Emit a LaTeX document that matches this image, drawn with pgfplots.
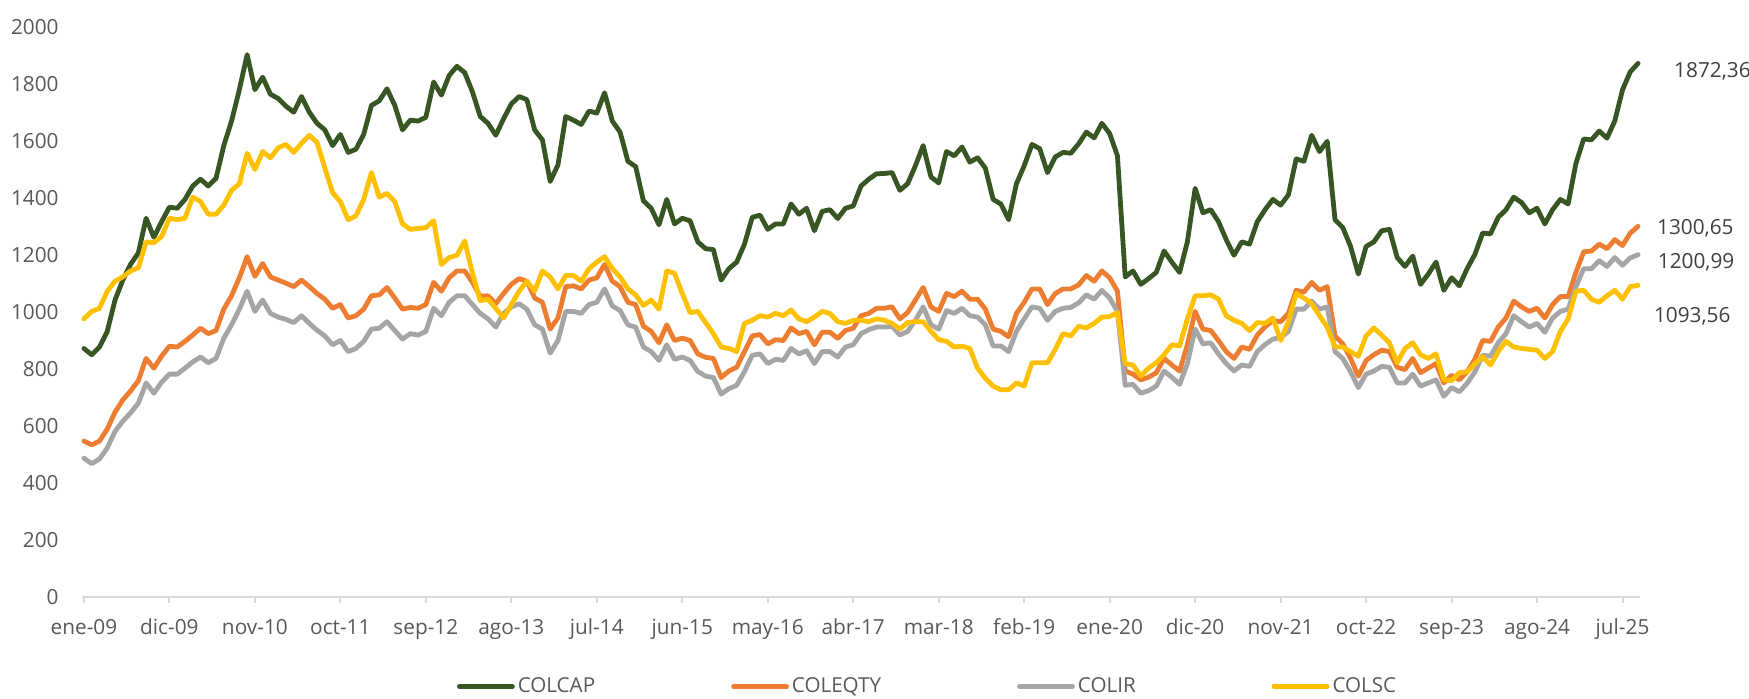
\documentclass[border=0pt]{standalone}
\usepackage{fontspec}
\setmainfont{Open Sans}
\usepackage{pgfplots}
\pgfplotsset{compat=1.18}
\usepackage{pgfplotstable}
\definecolor{cCAP}{HTML}{375623}
\definecolor{cEQ}{HTML}{ED7D31}
\definecolor{cIR}{HTML}{A5A5A5}
\definecolor{cSC}{HTML}{FFC000}
\definecolor{cAx}{HTML}{D9D9D9}
\definecolor{cTx}{HTML}{595959}
\definecolor{cLbl}{HTML}{404040}

% month index (0 = ene-09), COLCAP, COLEQTY, COLIR, COLSC
\pgfplotstableread{
m colcap coleqty colir colsc
0 872 547 487 976
1 850 534 468 1002
2 877 547 484 1013
3 932 589 523 1073
4 1042 649 581 1108
5 1112 691 617 1123
6 1167 723 646 1144
7 1207 759 680 1155
8 1329 837 751 1246
9 1262 803 715 1243
10 1317 845 754 1265
11 1368 880 782 1329
12 1364 877 782 1324
13 1395 897 803 1329
14 1442 919 825 1403
15 1466 943 842 1387
16 1442 924 822 1343
17 1469 935 837 1343
18 1584 1010 908 1375
19 1670 1057 955 1427
20 1780 1120 1010 1450
21 1903 1194 1073 1557
22 1780 1125 1002 1500
23 1824 1170 1042 1563
24 1764 1123 995 1541
25 1749 1112 982 1576
26 1722 1101 974 1588
27 1701 1089 963 1560
28 1756 1112 987 1592
29 1701 1089 960 1620
30 1662 1065 936 1595
31 1639 1045 916 1505
32 1584 1013 885 1419
33 1623 1026 900 1387
34 1560 979 861 1324
35 1571 987 872 1337
36 1623 1010 897 1395
37 1725 1057 940 1489
38 1741 1060 943 1403
39 1783 1086 966 1416
40 1725 1049 935 1387
41 1639 1010 905 1309
42 1673 1016 924 1290
43 1670 1013 919 1293
44 1683 1026 932 1296
45 1807 1104 1013 1320
46 1761 1073 987 1167
47 1830 1120 1034 1191
48 1862 1144 1057 1199
49 1840 1144 1057 1249
50 1772 1104 1026 1136
51 1686 1055 995 1040
52 1662 1057 976 1045
53 1620 1029 947 1013
54 1678 1065 995 979
55 1730 1097 1018 1026
56 1756 1117 1029 1073
57 1745 1108 1010 1108
58 1639 1049 955 1073
59 1604 1034 940 1144
60 1458 940 856 1123
61 1516 979 900 1081
62 1686 1089 1002 1128
63 1673 1092 1002 1128
64 1658 1081 995 1108
65 1705 1112 1026 1152
66 1698 1120 1034 1175
67 1769 1167 1081 1194
68 1670 1108 1021 1152
69 1631 1089 1005 1123
70 1529 1034 955 1081
71 1510 1026 947 1060
72 1390 950 877 1023
73 1364 932 861 1042
74 1306 892 830 1010
75 1395 955 885 1144
76 1309 900 834 1136
77 1329 908 842 1065
78 1320 900 830 998
79 1246 853 791 1002
80 1222 841 775 963
81 1219 837 770 924
82 1112 770 712 877
83 1152 793 731 872
84 1175 806 743 861
85 1238 861 791 960
86 1332 916 848 971
87 1340 921 853 987
88 1290 888 819 982
89 1309 903 834 995
90 1309 900 830 987
91 1379 944 872 1007
92 1343 924 853 976
93 1364 932 864 966
94 1285 885 819 982
95 1353 929 861 1002
96 1359 929 861 995
97 1328 908 842 966
98 1364 935 877 960
99 1372 943 885 971
100 1442 987 924 971
101 1466 995 938 966
102 1485 1013 947 976
103 1486 1013 947 971
104 1489 1018 950 960
105 1427 976 919 940
106 1450 998 932 963
107 1513 1042 971 966
108 1584 1086 1018 966
109 1474 1018 955 932
110 1453 1002 940 903
111 1563 1065 1005 897
112 1548 1054 995 877
113 1579 1073 1013 880
114 1526 1045 987 872
115 1541 1045 982 803
116 1505 1010 955 767
117 1395 940 881 740
118 1379 932 881 727
119 1324 913 861 727
120 1450 995 932 751
121 1513 1034 976 740
122 1588 1081 1018 822
123 1573 1081 1013 822
124 1489 1026 971 822
125 1544 1065 1002 869
126 1560 1081 1013 924
127 1557 1081 1016 916
128 1590 1095 1032 950
129 1631 1128 1060 944
130 1611 1108 1045 960
131 1662 1144 1076 982
132 1626 1120 1049 984
133 1548 1073 1002 998
134 1123 793 743 819
135 1144 782 746 814
136 1097 762 715 775
137 1117 771 724 803
138 1139 787 740 822
139 1214 837 793 850
140 1175 814 771 885
141 1139 793 746 881
142 1246 885 819 976
143 1434 1002 940 1057
144 1348 940 888 1057
145 1359 935 892 1060
146 1317 900 853 1045
147 1254 861 819 987
148 1199 837 793 971
149 1246 877 814 960
150 1238 869 809 935
151 1317 919 861 963
152 1359 948 886 960
153 1395 970 905 979
154 1375 966 910 900
155 1411 995 932 966
156 1537 1076 1010 1065
157 1529 1070 1010 1049
158 1620 1104 1038 1029
159 1563 1076 1010 987
160 1599 1089 1018 947
161 1324 916 861 877
162 1296 888 837 877
163 1230 837 790 861
164 1133 775 735 845
165 1230 830 782 916
166 1246 850 793 944
167 1285 866 809 919
168 1290 861 806 892
169 1191 806 751 822
170 1160 798 751 872
171 1196 837 782 892
172 1097 787 740 850
173 1133 803 751 837
174 1175 819 762 853
175 1076 751 704 762
176 1120 778 735 759
177 1092 762 720 787
178 1152 790 750 790
179 1202 834 790 818
180 1277 900 848 843
181 1274 897 845 814
182 1332 947 892 861
183 1359 979 924 897
184 1403 1038 987 877
185 1384 1018 966 872
186 1348 1002 947 869
187 1364 1013 960 866
188 1309 979 929 837
189 1359 1026 979 861
190 1395 1054 1002 932
191 1379 1054 1010 976
192 1521 1139 1089 1073
193 1607 1211 1152 1076
194 1604 1214 1152 1045
195 1635 1238 1180 1034
196 1610 1222 1160 1057
197 1670 1254 1191 1076
198 1780 1233 1164 1045
199 1843 1277 1190 1089
200 1872.36 1300.65 1200.99 1093.56
}\indices

\begin{document}
\begin{tikzpicture}
\path[use as bounding box, fill=white] (0,0) rectangle (874.5pt,349.5pt);
\begin{axis}[
  at={(41pt,51pt)}, anchor=south west,
  scale only axis, width=779pt, height=285pt,
  xmin=-0.25, xmax=200.25, ymin=0, ymax=2000,
  axis x line*=bottom, axis y line*=left,
  y axis line style={draw=none},
  x axis line style={-, draw=cAx, line width=1pt},
  xtick={0,11,...,198},
  xticklabels={ene-09,dic-09,nov-10,oct-11,sep-12,ago-13,jul-14,jun-15,may-16,abr-17,mar-18,feb-19,ene-20,dic-20,nov-21,oct-22,sep-23,ago-24,jul-25},
  ytick={0,200,...,2000},
  yticklabels={0,200,400,600,800,1000,1200,1400,1600,1800,2000},
  tick align=outside, major tick length=3pt,
  xtick style={draw=cAx, line width=1pt},
  ytick style={draw=none},
  tick label style={font=\fontsize{10.4}{12}\selectfont, text=cTx},
  xticklabel style={anchor=base, yshift=-16pt},
  yticklabel style={anchor=east, inner sep=0pt, xshift=-8.5pt},
  clip=false,
  legend columns=4,
  legend style={at={(0.2407,-0.157)}, anchor=west, draw=none, fill=none,
    inner sep=0pt, outer sep=0pt, font=\fontsize{10.3}{12}\selectfont, text=cTx,
    nodes={inner sep=0pt},
    /tikz/column sep=0pt,
    /tikz/every odd column/.append style={column sep=1.5pt},
    /tikz/every even column/.append style={column sep=68pt}},
  legend image code/.code={\draw[#1] (0pt,0pt) -- (26.5pt,0pt);},
  every axis plot/.append style={line width=2.4pt, line join=round, line cap=round},
]
\addplot[cCAP] table[x=m, y=colcap] {\indices};
\addlegendentry{COLCAP}
\addplot[cEQ] table[x=m, y=coleqty] {\indices};
\addlegendentry{COLEQTY}
\addplot[cIR] table[x=m, y=colir] {\indices};
\addlegendentry{COLIR}
\addplot[cSC] table[x=m, y=colsc] {\indices};
\addlegendentry{COLSC}
\node[anchor=west, inner sep=0pt, text=cLbl, font=\fontsize{10.4}{12}\selectfont] at (axis cs:204.6,1845) {1872,36};
\node[anchor=west, inner sep=0pt, text=cLbl, font=\fontsize{10.4}{12}\selectfont] at (axis cs:202.4,1295) {1300,65};
\node[anchor=west, inner sep=0pt, text=cLbl, font=\fontsize{10.4}{12}\selectfont] at (axis cs:202.5,1175) {1200,99};
\node[anchor=west, inner sep=0pt, text=cLbl, font=\fontsize{10.4}{12}\selectfont] at (axis cs:202.0,986) {1093,56};
\end{axis}
\end{tikzpicture}
\end{document}
